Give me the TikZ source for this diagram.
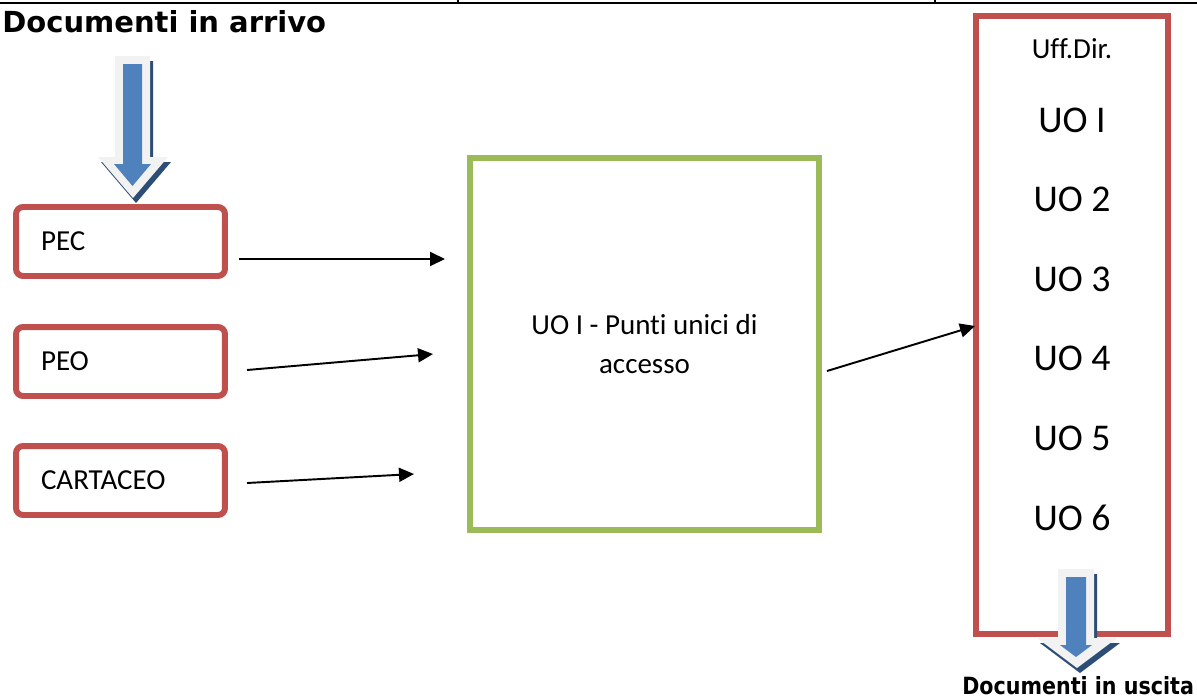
\documentclass[tikz,border=0pt]{standalone}
\usepackage{fontspec}
\setmainfont{Carlito}[Ligatures=CommonOff]
\newfontfamily\headfont{DejaVu Sans}
\usetikzlibrary{arrows.meta}

\definecolor{boxred}{HTML}{C0504D}
\definecolor{boxgreen}{HTML}{9BBB59}
\definecolor{arrowblue}{HTML}{4F81BD}
\definecolor{arrowshade}{HTML}{2C4D75}
\definecolor{arrowrim}{HTML}{F2F2F2}

\newcommand\txtsmall{\fontsize{16.5}{22}\selectfont}
\newcommand\txtbig{\fontsize{21.5}{26}\selectfont}

\tikzset{
  headline/.style={inner sep=0pt, font=\headfont\bfseries\fontsize{16.5}{20}\selectfont},
  source/.style={draw=boxred, line width=3.4pt, rounded corners=4pt,
    minimum height=1.38cm, text width=3.18cm, inner xsep=0.5cm, align=left, font=\txtsmall},
  hub/.style={draw=boxgreen, line width=3.4pt, minimum width=6.98cm, minimum height=7.44cm,
    align=center, font=\txtsmall},
  office/.style={draw=boxred, line width=3.4pt, minimum width=3.84cm, minimum height=12.36cm},
  unit/.style={inner sep=0pt, font=\txtbig},
  flow/.style={line width=1.1pt, -{Triangle[length=0.3cm,width=0.28cm]}}
}

\begin{document}
\begin{tikzpicture}[x=0.02cm, y=-0.02cm]
  \useasboundingbox (0,0) rectangle (1197,697);
  % Rule
  \draw[line width=1.4pt] (0,3) -- (1197,3);
  \draw[line width=1.1pt] (458,0) -- (458,3) (935,0) -- (935,3);
  % Boxes
  \node[headline, anchor=base west] (arrivo) at (2,32) {Documenti in arrivo};
  \node[source] (pec) at (120.5,241.5) {PEC};
  \node[source] (peo) at (120.5,361.5) {PEO};
  \node[source] (cartaceo) at (120.5,480.5) {CARTACEO};
  \node[hub] (punti) at (644.5,344) {UO I - Punti unici di\\accesso};
  \node[office] (uff) at (1072,325) {};
  % Labels
  \node[inner sep=0pt, font=\txtsmall] (uffdir) at (1072,49) {Uff.Dir.};
  \foreach \k [count=\i] in {I,2,3,4,5,6}
    \node[unit] (uo\i) at (1072,{120+79.5*(\i-1)}) {UO \k};
  % Points
  \coordinate (pec1) at (239,259);
  \coordinate (pec2) at (445,259);
  \coordinate (peo1) at (247,370);
  \coordinate (peo2) at (433,354);
  \coordinate (car1) at (247,483);
  \coordinate (car2) at (414,474);
  \coordinate (hub1) at (827,371);
  \coordinate (hub2) at (975,326);
  % Ways
  \draw[flow] (pec1) -- (pec2);
  \draw[flow] (peo1) -- (peo2);
  \draw[flow] (car1) -- (car2);
  \draw[flow] (hub1) -- (hub2);
  % Block arrow in
  \fill[arrowshade, shift={(3,5)}] (115,56) -- (150,56) -- (150,157) -- (168,157)
    -- (133,198) -- (98,157) -- (115,157) -- cycle;
  \fill[arrowrim] (115,56) -- (150,56) -- (150,157) -- (168,157)
    -- (133,198) -- (98,157) -- (115,157) -- cycle;
  \fill[arrowblue] (123,64) -- (142,64) -- (142,164) -- (151,164)
    -- (132.5,186) -- (114,164) -- (123,164) -- cycle;
  % Block arrow out
  \fill[arrowshade, shift={(3,5)}] (1058,569) -- (1094,569) -- (1094,638) -- (1117,638)
    -- (1077,668) -- (1037,638) -- (1058,638) -- cycle;
  \fill[arrowrim] (1058,569) -- (1094,569) -- (1094,638) -- (1117,638)
    -- (1077,668) -- (1037,638) -- (1058,638) -- cycle;
  \fill[arrowblue] (1066,577) -- (1086,577) -- (1086,645) -- (1092,645)
    -- (1076,657) -- (1060,645) -- (1066,645) -- cycle;
  \node[headline, anchor=base west, font=\headfont\bfseries\fontsize{13.5}{16}\selectfont]
    (uscita) at (962,694) {\scalebox{0.87}[1]{Documenti in uscita}};
\end{tikzpicture}
\end{document}
